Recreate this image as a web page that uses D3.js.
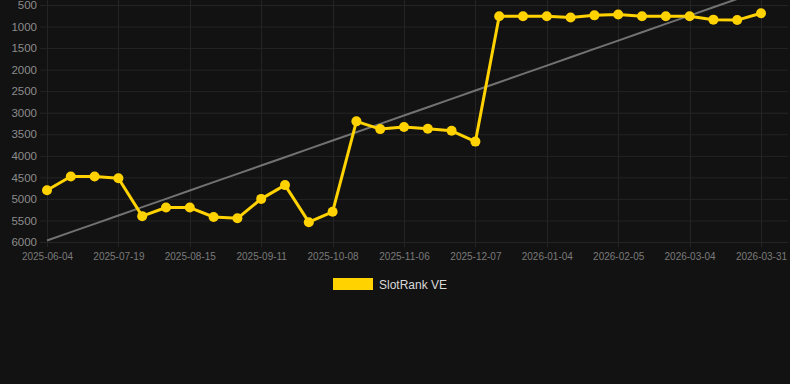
<!DOCTYPE html>
<html>
<head>
<meta charset="utf-8">
<script src="https://cdn.jsdelivr.net/npm/d3@7"></script>
<style>
  html, body { margin: 0; padding: 0; background: #121212; }
  svg { display: block; font-family: "Liberation Sans", Arial, Helvetica, sans-serif; }
</style>
</head>
<body>
<svg id="chart" width="790" height="384"></svg>
<script>
let svg = d3.select("#chart");

let width = 790;
let height = 384;

// categories (every third one is labelled on the axis)
let dates = [
  "2025-06-04", "2025-06-19", "2025-07-04",
  "2025-07-19", "2025-07-28", "2025-08-06",
  "2025-08-15", "2025-08-24", "2025-09-02",
  "2025-09-11", "2025-09-20", "2025-09-29",
  "2025-10-08", "2025-10-18", "2025-10-27",
  "2025-11-06", "2025-11-16", "2025-11-26",
  "2025-12-07", "2025-12-16", "2025-12-26",
  "2026-01-04", "2026-01-15", "2026-01-25",
  "2026-02-05", "2026-02-14", "2026-02-23",
  "2026-03-04", "2026-03-13", "2026-03-22",
  "2026-03-31"
];
let ranks = [
  4800, 4480, 4480, 4520, 5400, 5200, 5200, 5420, 5450, 5000,
  4680, 5540, 5300, 3200, 3380, 3330, 3370, 3420, 3670, 760,
  760, 760, 790, 740, 720, 760, 760, 760, 840, 850,
  690
];
let y_ticks = [500, 1000, 1500, 2000, 2500, 3000, 3500, 4000, 4500, 5000, 5500, 6000];
let series_name = "SlotRank VE";

let plot_left = 40;
let plot_right = 788;
let plot_top = 5;
let plot_bottom = 242;

let x_scale = d3.scalePoint()
  .domain(dates)
  .range([47, 761]);
let y_scale = d3.scaleLinear()
  .domain([500, 6000])
  .range([plot_top, plot_bottom]);

let labelled = dates.filter((d, i) => i % 3 == 0);

// grid
let grid = svg.append("g").attr("class", "grid");
grid.selectAll("line.h")
  .data(y_ticks)
  .enter().append("line")
    .attr("class", "h")
    .attr("x1", plot_left)
    .attr("x2", plot_right)
    .attr("y1", (d) => y_scale(d) + 0.5)
    .attr("y2", (d) => y_scale(d) + 0.5)
    .attr("stroke", "#242424");
grid.selectAll("line.v")
  .data(labelled)
  .enter().append("line")
    .attr("class", "v")
    .attr("x1", (d) => Math.round(x_scale(d)) + 0.5)
    .attr("x2", (d) => Math.round(x_scale(d)) + 0.5)
    .attr("y1", 0)
    .attr("y2", plot_bottom + 5)
    .attr("stroke", "#242424");

// y axis
let y_axis = svg.append("g")
  .attr("transform", "translate(" + (plot_left - 3) + ",0)")
  .call(d3.axisLeft(y_scale).tickValues(y_ticks).tickSize(0).tickPadding(0).tickFormat(d3.format("d")));
y_axis.select(".domain").remove();
y_axis.selectAll("text")
  .attr("fill", "#8c8c8c")
  .style("font-size", "11.5px")
  .style("font-family", "Liberation Sans, Arial, sans-serif");

// x axis
let x_axis = svg.append("g")
  .attr("transform", "translate(0," + (plot_bottom + 11) + ")")
  .call(d3.axisBottom(x_scale).tickValues(labelled).tickSize(0).tickPadding(0));
x_axis.select(".domain").remove();
x_axis.selectAll("text")
  .attr("fill", "#7a7a7a")
  .style("font-size", "10px")
  .style("font-family", "Liberation Sans, Arial, sans-serif");

// linear trend over the category index
let n = ranks.length;
let mean_i = (n - 1) / 2;
let mean_v = d3.mean(ranks);
let slope = d3.sum(ranks, (v, i) => (i - mean_i) * (v - mean_v)) / d3.sum(ranks, (v, i) => (i - mean_i) * (i - mean_i));
let trend = ranks.map((v, i) => mean_v + slope * (i - mean_i));

svg.append("path")
  .datum(trend)
  .attr("fill", "none")
  .attr("stroke", "#727272")
  .attr("stroke-width", 2)
  .attr("d", d3.line()
    .x((d, i) => x_scale(dates[i]))
    .y((d) => y_scale(d)));

// series
svg.append("path")
  .datum(ranks)
  .attr("fill", "none")
  .attr("stroke", "#ffd200")
  .attr("stroke-width", 3)
  .attr("stroke-linejoin", "round")
  .attr("d", d3.line()
    .x((d, i) => x_scale(dates[i]))
    .y((d) => y_scale(d)));

svg.append("g")
  .selectAll("circle")
  .data(ranks)
  .enter().append("circle")
    .attr("cx", (d, i) => x_scale(dates[i]))
    .attr("cy", (d) => y_scale(d))
    .attr("r", 5)
    .attr("fill", "#ffd200");

// legend
let legend = svg.append("g")
  .attr("transform", "translate(333,278)");
legend.append("rect")
  .attr("width", 40)
  .attr("height", 12)
  .attr("fill", "#ffd200");
legend.append("text")
  .attr("x", 46)
  .attr("y", 10.5)
  .attr("fill", "#d9d9d9")
  .style("font-size", "12px")
  .text(series_name);
</script>
</body>
</html>
